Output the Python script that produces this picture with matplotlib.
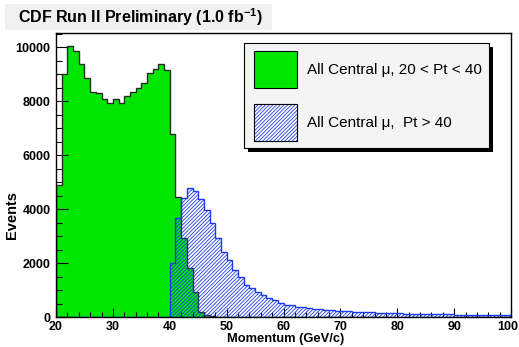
import numpy as np
import matplotlib
matplotlib.use("Agg")
import matplotlib.pyplot as plt
from matplotlib.patches import Rectangle
import matplotlib.transforms as mtransforms

# ---------------- data ----------------
edges = np.arange(20, 101, 1)  # 1 GeV bins from 20 to 100

green_vals = [4900, 9000, 10060, 9860, 9370, 8850, 8340, 8300, 8070, 7930,
              8090, 7930, 8210, 8330, 8500, 8690, 9060, 9200, 9380, 9150,
              6780, 4440, 2930, 1820, 950, 210, 90, 30] + [0] * 52

blue_vals = [0] * 20 + [2020, 3670, 4410, 4780, 4690, 4370, 3970, 3480, 2930, 2430,
                        2120, 1750, 1480, 1200, 1070, 950, 830, 730, 640, 520,
                        460, 450, 400, 390, 330, 310, 300, 280, 260, 250,
                        240, 220, 210, 200, 190, 180, 175, 170, 160, 150,
                        150, 140, 135, 130, 125, 120, 130, 115, 110, 105,
                        100, 100, 95, 90, 90, 85, 80, 80, 75, 70]

x_ticks = [20, 30, 40, 50, 60, 70, 80, 90, 100]
y_ticks = [0, 2000, 4000, 6000, 8000, 10000]

title = "CDF Run II Preliminary (1.0 fb$^{\\mathbf{-1}}$)"
legend_labels = ["All Central \u03bc, 20 < Pt < 40", "All Central \u03bc,  Pt > 40"]
x_label = "Momentum (GeV/c)"
y_label = "Events"

# ---------------- style ----------------
GREEN = "#00e600"
BLUE = "#1a3cf0"
HATCH = '/' * 9
plt.rcParams['font.family'] = ['Liberation Sans', 'DejaVu Sans']
plt.rcParams['mathtext.fontset'] = 'custom'
plt.rcParams['mathtext.rm'] = 'Liberation Sans'
plt.rcParams['mathtext.bf'] = 'Liberation Sans:bold'
plt.rcParams['hatch.linewidth'] = 0.6

W, H = 519, 347
fig = plt.figure(figsize=(W / 100, H / 100), dpi=100)
fig.patch.set_facecolor('white')

def fx(px):
    return px / W

def fy(py):
    return 1 - py / H

ax_l, ax_r, ax_t, ax_b = 56, 511, 33, 317.3
ax = fig.add_axes([fx(ax_l), fy(ax_b), (ax_r - ax_l) / W, (ax_b - ax_t) / H])

ax.stairs(green_vals, edges, fill=True, color=GREEN, lw=0, zorder=1)
ax.stairs(green_vals, edges, color='#2a2a2a', lw=1.0, zorder=2)
ax.stairs(blue_vals, edges, fill=True, facecolor='none', edgecolor=BLUE,
          hatch=HATCH, lw=0, zorder=3)
ax.stairs(blue_vals, edges, color=BLUE, lw=1.0, zorder=4)

ax.set_xlim(20, 100)
ax.set_ylim(0, 10530)
ax.set_xticks(x_ticks)
ax.set_xticks(np.arange(20, 101, 2), minor=True)
ax.set_yticks(y_ticks)
ax.set_yticks(np.arange(0, 10501, 500), minor=True)
ax.set_xticklabels([str(v) for v in x_ticks], fontweight='bold', fontsize=9)
ax.set_yticklabels([str(v) for v in y_ticks], fontweight='bold', fontsize=9)
ax.tick_params(axis='x', which='major', direction='in', length=6.5, width=0.8, pad=3)
ax.tick_params(axis='x', which='minor', direction='in', length=3.5, width=0.8)
ax.tick_params(axis='y', which='major', direction='in', length=8.6, width=0.8, pad=4)
ax.tick_params(axis='y', which='minor', direction='in', length=4.3, width=0.8)
for s in ax.spines.values():
    s.set_linewidth(1.0)
    s.set_zorder(10)

# keep the last x tick label inside the figure
last = ax.get_xticklabels()[-1]
last.set_transform(last.get_transform() +
                   mtransforms.ScaledTranslation(-3 / 100, 0, fig.dpi_scale_trans))

# axis titles
fig.text(fx(286), fy(339), x_label, ha='center', va='center', fontsize=9.3,
         fontweight='bold')
fig.text(fx(12), fy(215), y_label, ha='center', va='center', fontsize=10.5,
         fontweight='bold', rotation=90)

# title box
fig.add_artist(Rectangle((fx(5), fy(30)), fx(272) - fx(5), fy(4) - fy(30),
                         transform=fig.transFigure, facecolor='#f0f0f0',
                         edgecolor='none', zorder=0))
fig.text(fx(18), fy(17), title, ha='left', va='center', fontsize=11.5,
         fontweight='bold')

# legend
lx0, ly0, lx1, ly1 = 244, 43.3, 489.3, 148.3
fig.add_artist(Rectangle((fx(lx0 + 4), fy(ly1 + 4)), (lx1 - lx0) / W, (ly1 - ly0) / H,
                         transform=fig.transFigure, facecolor='black',
                         edgecolor='none', zorder=20))
fig.add_artist(Rectangle((fx(lx0), fy(ly1)), (lx1 - lx0) / W, (ly1 - ly0) / H,
                         transform=fig.transFigure, facecolor='#f4f4f4',
                         edgecolor='black', lw=0.8, zorder=21))
fig.add_artist(Rectangle((fx(254), fy(88.3)), (297.3 - 254) / W, (88.3 - 51) / H,
                         transform=fig.transFigure, facecolor=GREEN,
                         edgecolor='black', lw=0.8, zorder=22))
fig.add_artist(Rectangle((fx(254), fy(141)), (297.3 - 254) / W, (141 - 104) / H,
                         transform=fig.transFigure, facecolor='white',
                         edgecolor=BLUE, hatch=HATCH, lw=0, zorder=22))
fig.add_artist(Rectangle((fx(254), fy(141)), (297.3 - 254) / W, (141 - 104) / H,
                         transform=fig.transFigure, facecolor='none',
                         edgecolor='black', lw=0.8, zorder=23))
fig.text(fx(306.7), fy(70), legend_labels[0], ha='left', va='center',
         fontsize=11, zorder=24)
fig.text(fx(306.7), fy(122.7), legend_labels[1], ha='left', va='center',
         fontsize=11, zorder=24)

fig.savefig('out.png', dpi=100)
